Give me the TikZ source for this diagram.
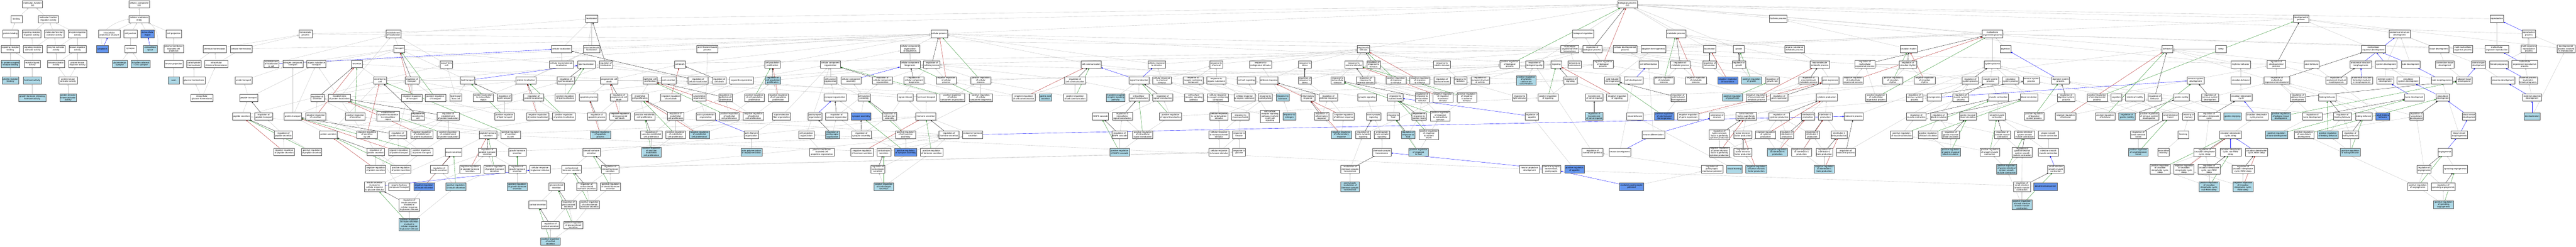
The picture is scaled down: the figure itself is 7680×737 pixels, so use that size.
\documentclass[tikz,border=0pt]{standalone}
\usepackage{fontspec}
\setmainfont{Liberation Sans}
\usetikzlibrary{arrows.meta}
\definecolor{lbf}{HTML}{ADD8E6}
\definecolor{cbf}{HTML}{6495ED}
\definecolor{cgr}{HTML}{C4C4C4}
\definecolor{cre}{HTML}{B22222}
\definecolor{cgn}{HTML}{228B22}
\definecolor{cbl}{HTML}{0000FF}
\definecolor{cbk}{HTML}{1A1A1A}
\newcommand\fs{\fontsize{6.5}{6.9}\selectfont}
\pgfdeclarelayer{background}
\pgfdeclarelayer{canvas}
\pgfsetlayers{canvas,background,main}
\tikzset{
  bx/.style={draw=black!65, fill=white, line width=0.7pt, align=center, inner sep=1.5pt, minimum height=22pt, font=\fs},
  lbx/.style={bx, fill=lbf},
  cbx/.style={bx, fill=cbf},
  eg/.style={draw=cgr, line width=0.6pt, -{Triangle[length=4.5pt,width=3.6pt]}},
  er/.style={eg, draw=cre},
  en/.style={eg, draw=cgn},
  eb/.style={eg, draw=cbl},
  ek/.style={eg, draw=cbk}
}
\newcommand\bxn[5]{\node[#4,minimum width=#3pt] (#1) at (#2) {#5};}
\newcommand\edg[3][eg]{\draw[#1] (#2) -- (#3);}
\begin{document}
\begin{tikzpicture}[x=1pt,y=-1pt]
\useasboundingbox (0,0) rectangle (7680,737);
\begin{pgfonlayer}{canvas}
\fill[white] (0,0) rectangle (7680,737);
\end{pgfonlayer}
% ---------------- molecular function
\bxn{mf}{97,13}{60}{bx}{molecular\_function\\GO}
\bxn{binding}{49,57}{34}{bx}{binding}
\bxn{mfreg}{144,57}{59}{bx}{molecular function\\regulator activity}
\bxn{pbind}{31,101}{47}{bx}{protein binding}
\bxn{srreg}{94,101}{56}{bx}{signaling receptor\\regulator activity}
\bxn{mfact}{162,101}{58}{bx}{molecular function\\activator activity}
\bxn{enzreg}{231,101}{55}{bx}{enzyme regulator\\activity}
\bxn{srbind}{31,146}{56}{bx}{signaling receptor\\binding}
\bxn{sract}{98,146}{56}{bx}{signaling receptor\\activator activity}
\bxn{enzact}{167,146}{55}{bx}{enzyme activator\\activity}
\bxn{kinreg}{231,146}{51}{bx}{kinase regulator\\activity}
\bxn{gpcr}{31,191}{56}{lbx}{G protein-coupled\\receptor binding}
\bxn{rlig}{96,191}{48}{bx}{receptor ligand\\activity}
\bxn{kinact}{167,191}{50}{bx}{kinase activator\\activity}
\bxn{pkreg}{231,191}{54}{bx}{protein kinase\\regulator activity}
\bxn{ghrelin}{31,240}{50}{lbx}{ghrelin receptor\\binding}
\bxn{hormact}{96,240}{54}{lbx}{hormone activity}
\bxn{pkact}{203,240}{54}{bx}{protein kinase\\activator activity}
\bxn{ghrh}{96,292}{82}{lbx}{growth hormone-releasing\\hormone activity}
\bxn{ptk}{203,292}{50}{lbx}{protein tyrosine\\kinase activator\\activity}
% ---------------- cellular component
\bxn{cc}{415,13}{61}{bx}{cellular\_component\\GO}
\bxn{cae}{415,57}{60}{bx}{cellular anatomical\\entity}
\bxn{ias}{326,101}{65}{bx}{intracellular\\anatomical structure}
\bxn{cjunc}{389,101}{40}{bx}{cell junction}
\bxn{ecr}{440,101}{40}{cbx}{extracellular\\region}
\bxn{cproj}{518,101}{46}{bx}{cell projection}
\bxn{cyto}{305,146}{35}{cbx}{cytoplasm}
\bxn{syn}{389,146}{34}{bx}{synapse}
\bxn{ecs}{448,146}{41}{lbx}{extracellular\\space}
\bxn{pmbcp}{518,146}{59}{bx}{plasma membrane\\bounded cell\\projection}
\bxn{glut}{357,191}{44}{lbx}{glutamatergic\\synapse}
\bxn{schaf}{419,191}{57}{lbx}{Schaffer collateral\\- CA1 synapse}
\bxn{nproj}{518,191}{55}{bx}{neuron projection}
\bxn{axon}{518,240}{33}{lbx}{axon}
% ---------------- biological process, left
\bxn{chemhom}{640,146}{70}{bx}{chemical homeostasis}
\bxn{carbhom}{578,191}{42}{bx}{carbohydrate\\homeostasis}
\bxn{icchem}{645,191}{69}{bx}{intracellular\\chemical homeostasis}
\bxn{gluhom}{578,240}{66}{bx}{glucose homeostasis}
\bxn{icglu}{602,292}{66}{bx}{intracellular\\glucose homeostasis}
\bxn{cellhom}{719,146}{65}{bx}{cellular homeostasis}
\bxn{homeo}{911,101}{39}{bx}{homeostatic\\process}
\bxn{eloc}{1173,101}{45}{bx}{establishment\\of localization}
\bxn{transport}{1190,146}{33}{bx}{transport}
\bxn{eloccell}{809,191}{45}{bx}{establishment\\of localization\\in cell}
\bxn{nitro}{873,191}{60}{bx}{nitrogen compound\\transport}
\bxn{orgsub}{943,191}{57}{bx}{organic substance\\transport}
\bxn{secretion}{1064,191}{33}{bx}{secretion}
\bxn{amide}{726,240}{51}{bx}{amide transport}
\bxn{sbc}{1133,240}{39}{bx}{secretion by\\cell}
\bxn{regtrans}{1228,240}{41}{bx}{regulation of\\transport}
\bxn{peptr}{741,292}{54}{bx}{peptide transport}
\bxn{regsec}{946,292}{40}{bx}{regulation of\\secretion}
\bxn{eprotloc}{1012,292}{67}{bx}{establishment\\of protein localization}
\bxn{negtrans}{1228,292}{61}{bx}{negative regulation\\of transport}
\bxn{postrans}{1298,292}{61}{bx}{positive regulation\\of transport}
\bxn{pepsec}{720,347}{55}{bx}{peptide secretion}
\bxn{regpeptr}{786,347}{54}{bx}{regulation of\\peptide transport}
\bxn{protr}{873,347}{52}{bx}{protein transport}
\bxn{negsec}{941,347}{60}{bx}{negative regulation\\of secretion}
\bxn{possec}{1059,347}{58}{bx}{positive regulation\\of secretion}
\bxn{eplx}{1157,347}{68}{bx}{establishment\\of protein localization\\to extracellular\\region}
\bxn{regsbc}{1246,347}{41}{bx}{regulation of\\secretion by\\cell}
\bxn{regpepsec}{845,402}{54}{bx}{regulation of\\peptide secretion}
\bxn{protsec}{979,402}{53}{bx}{protein secretion}
\bxn{negsbc}{1094,402}{61}{bx}{negative regulation\\of secretion\\by cell}
\bxn{regprotr}{1186,402}{53}{bx}{regulation of\\protein transport}
\bxn{negepl}{1257,402}{66}{bx}{negative regulation\\of establishment\\of protein localization}
\bxn{negpepsec}{847,453}{62}{bx}{negative regulation\\of peptide secretion}
\bxn{pospepsec}{929,453}{61}{bx}{positive regulation\\of peptide secretion}
\bxn{regprotsec}{1120,453}{53}{bx}{regulation of\\protein secretion}
\bxn{negprotr}{1189,453}{61}{bx}{negative regulation\\of protein transport}
\bxn{posprotr}{1257,453}{66}{bx}{positive regulation\\of protein transport}
\bxn{negprotsec}{1120,505}{60}{bx}{negative regulation\\of protein secretion}
\bxn{posprotsec}{1195,505}{60}{bx}{positive regulation\\of protein secretion}
\bxn{insgsr}{1117,557}{61}{bx}{insulin secretion\\involved in\\cellular response\\to glucose stimulus}
\bxn{orghyd}{1190,557}{62}{bx}{organic hydroxy\\compound transport}
\bxn{neginssec}{1264,557}{62}{cbx}{negative regulation\\of insulin secretion}
\bxn{reginsgsr}{1220,612}{61}{bx}{regulation of\\insulin secretion\\involved in\\cellular response\\to glucose stimulus}
\bxn{posinsgsr}{1220,670}{61}{lbx}{positive regulation\\of insulin secretion\\involved in\\cellular response\\to glucose stimulus}
% ---------------- region 1280-2380
\bxn{loc}{1764,56}{37}{bx}{localization}
\bxn{cellloc}{1674,146}{60}{bx}{cellular localization}
\bxn{macloc}{1764,146}{49}{bx}{macromolecule\\localization}
\bxn{afbp}{2109,146}{63}{bx}{actin filament-based\\process}
\bxn{expcell}{1331,192}{37}{bx}{export from\\cell}
\bxn{cmacloc}{1674,192}{72}{bx}{cellular macromolecule\\localization}
\bxn{lipidloc}{1748,192}{53}{bx}{lipid localization}
\bxn{regloc}{1806,192}{40}{bx}{regulation of\\localization}
\bxn{celldeath}{2027,192}{32}{bx}{cell death}
\bxn{cpp}{2303,192}{46}{bx}{cell population\\proliferation}
\bxn{lipidtr}{1394,240}{43}{bx}{lipid transport}
\bxn{protloc}{1568,240}{60}{bx}{protein localization}
\bxn{reglipidloc}{1687,240}{52}{bx}{regulation of\\lipid localization}
\bxn{pcd}{1816,240}{53}{bx}{programmed cell\\death}
\bxn{epiprol}{1938,240}{42}{bx}{epithelial cell\\proliferation}
\bxn{acidsec}{1993,240}{45}{bx}{acid secretion}
\bxn{regcellloc}{2081,240}{60}{bx}{regulation of\\cellular localization}
\bxn{regcd}{2144,240}{40}{bx}{regulation of\\cell death}
\bxn{orgorg}{2211,240}{70}{bx}{organelle organization}
\bxn{regcpp}{2304,240}{46}{lbx}{regulation of\\cell population\\proliferation}
\bxn{lipidexp}{1359,291}{36}{bx}{lipid export\\from cell}
\bxn{protlocx}{1441,291}{60}{bx}{protein localization\\to extracellular\\region}
\bxn{reglipidtr}{1504,291}{44}{bx}{regulation of\\lipid transport}
\bxn{regprotloc}{1591,291}{60}{bx}{regulation of\\protein localization}
\bxn{poslipidloc}{1685,291}{60}{bx}{positive regulation\\of lipid localization}
\bxn{apop}{1755,291}{55}{bx}{apoptotic process}
\bxn{regpcd}{1845,291}{53}{bx}{regulation of\\programmed cell\\death}
\bxn{endoprol}{1908,291}{50}{bx}{endothelial\\cell proliferation}
\bxn{negcd}{2000,291}{60}{bx}{negative regulation\\of cell death}
\bxn{cytoorg}{2085,291}{40}{bx}{cytoskeleton\\organization}
\bxn{regepi}{2163,291}{41}{bx}{regulation of\\epithelial cell\\proliferation}
\bxn{poscpp}{2249,291}{59}{bx}{positive regulation\\of cell population\\proliferation}
\bxn{negcpp}{2320,291}{60}{bx}{negative regulation\\of cell population\\proliferation}
\bxn{regepl}{1336,347}{67}{bx}{regulation of\\establishment\\of protein localization}
\bxn{posliptr}{1504,347}{58}{bx}{positive regulation\\of lipid transport}
\bxn{negprotloc}{1603,347}{67}{bx}{negative regulation\\of protein localization}
\bxn{posprotloc}{1681,347}{67}{bx}{positive regulation\\of protein localization}
\bxn{regapop}{1779,347}{55}{bx}{regulation of\\apoptotic process}
\bxn{negpcd}{1848,347}{62}{bx}{negative regulation\\of programmed\\cell death}
\bxn{vecp}{1922,347}{62}{bx}{vascular endothelial\\cell proliferation}
\bxn{regendo}{2014,347}{50}{bx}{regulation of\\endothelial\\cell proliferation}
\bxn{actcyto}{2104,347}{56}{bx}{actin cytoskeleton\\organization}
\bxn{posepi}{2174,347}{58}{bx}{positive regulation\\of epithelial\\cell proliferation}
\bxn{negepi}{2246,347}{60}{bx}{negative regulation\\of epithelial\\cell proliferation}
\bxn{supra}{2330,347}{53}{bx}{supramolecular\\fiber organization}
\bxn{posepl}{1336,402}{67}{bx}{positive regulation\\of establishment\\of protein localization}
\bxn{pephorm}{1455,402}{53}{bx}{peptide hormone\\secretion}
\bxn{possbc}{1522,402}{58}{bx}{positive regulation\\of secretion\\by cell}
\bxn{negapop}{1790,402}{60}{lbx}{negative regulation\\of apoptotic\\process}
\bxn{regvecp}{1942,402}{65}{bx}{regulation of\\vascular endothelial\\cell proliferation}
\bxn{posendo}{2014,402}{59}{bx}{positive regulation\\of endothelial\\cell proliferation}
\bxn{negendo}{2085,402}{60}{lbx}{negative regulation\\of endothelial\\cell proliferation}
\bxn{actfil}{2240,402}{44}{bx}{actin filament\\organization}
\bxn{inssec}{1352,454}{50}{bx}{insulin secretion}
\bxn{regpephorm}{1453,454}{53}{bx}{regulation of\\peptide hormone\\secretion}
\bxn{ghsec}{1542,454}{52}{bx}{growth hormone\\secretion}
\bxn{steroid}{1763,454}{52}{bx}{steroid hormone\\secretion}
\bxn{posvecp}{1942,454}{59}{lbx}{positive regulation\\of vascular\\endothelial\\cell proliferation}
\bxn{actpoly}{2240,454}{63}{lbx}{actin polymerization\\or depolymerization}
\bxn{regins}{1309,505}{52}{bx}{regulation of\\insulin secretion}
\bxn{negpephorm}{1401,505}{62}{bx}{negative regulation\\of peptide hormone\\secretion}
\bxn{pospephorm}{1474,505}{62}{bx}{positive regulation\\of peptide hormone\\secretion}
\bxn{regghsec}{1542,505}{52}{bx}{regulation of\\growth hormone\\secretion}
\bxn{crgs}{1610,505}{62}{bx}{cellular response\\to glucose stimulus}
\bxn{corticosec}{1704,505}{59}{bx}{corticosteroid\\hormone secretion}
\bxn{regsteroid}{1819,505}{52}{bx}{regulation of\\steroid hormone\\secretion}
\bxn{posins}{1359,557}{59}{lbx}{positive regulation\\of insulin secretion}
\bxn{posgh}{1542,557}{59}{lbx}{positive regulation\\of growth hormone\\secretion}
\bxn{glucosec}{1659,557}{45}{bx}{glucocorticoid\\secretion}
\bxn{regcortico}{1749,557}{59}{bx}{regulation of\\corticosteroid\\hormone secretion}
\bxn{possteroid}{1820,557}{60}{bx}{positive regulation\\of steroid hormone\\secretion}
\bxn{cortisol}{1603,611}{53}{bx}{cortisol secretion}
\bxn{regglucosec}{1695,611}{44}{bx}{regulation of\\glucocorticoid\\secretion}
\bxn{poscortico}{1758,611}{58}{bx}{positive regulation\\of corticosteroid\\hormone secretion}
\bxn{regcortisol}{1641,672}{53}{bx}{regulation of\\cortisol secretion}
\bxn{posgluco}{1709,672}{58}{bx}{positive regulation\\of glucocorticoid\\secretion}
\bxn{poscortisol}{1641,721}{58}{lbx}{positive regulation\\of cortisol\\secretion}
% ---------------- region 2380-3480
\bxn{cp}{2800,101}{49}{bx}{cellular process}
\bxn{ccob}{2713,146}{59}{bx}{cellular component\\organization\\or biogenesis}
\bxn{ccorg}{2476,192}{60}{bx}{cellular component\\organization}
\bxn{ccbio}{2713,192}{60}{bx}{cellular component\\biogenesis}
\bxn{regcp}{2778,192}{49}{bx}{regulation of\\cellular process}
\bxn{cellcomm}{3253,192}{60}{bx}{cell communication}
\bxn{crs}{3448,192}{52}{bx}{cellular response\\to stimulus}
\bxn{cjorg}{2476,240}{39}{bx}{cell junction\\organization}
\bxn{ccasm}{2537,240}{60}{bx}{cellular component\\assembly}
\bxn{regccorg}{2631,240}{60}{bx}{regulation of\\cellular component\\organization}
\bxn{regccbio}{2725,240}{60}{bx}{regulation of\\cellular component\\biogenesis}
\bxn{negcp}{2821,240}{60}{bx}{negative regulation\\of cellular\\process}
\bxn{poscp}{2924,240}{59}{bx}{positive regulation\\of cellular\\process}
\bxn{regcomm}{3205,240}{62}{bx}{regulation of\\cell communication}
\bxn{sigtrans}{3396,240}{60}{bx}{signal transduction}
\bxn{crcs}{3464,240}{55}{bx}{cellular response\\to chemical\\stimulus}
\bxn{synorg}{2489,291}{66}{bx}{synapse organization}
\bxn{cjasm}{2576,291}{36}{bx}{cell junction\\assembly}
\bxn{sigrel}{2699,291}{45}{bx}{signal release}
\bxn{hormtr}{2762,291}{58}{bx}{hormone transport}
\bxn{posccorg}{2839,291}{74}{bx}{positive regulation\\of cellular\\component organization}
\bxn{posccbio}{2924,291}{70}{bx}{positive regulation\\of cellular\\component biogenesis}
\bxn{negcomm}{3052,291}{69}{bx}{negative regulation\\of cell communication}
\bxn{gastacid}{3117,291}{36}{lbx}{gastric acid\\secretion}
\bxn{poscomm}{3205,291}{69}{bx}{positive regulation\\of cell communication}
\bxn{gpcrsp}{3326,291}{56}{lbx}{G protein-coupled\\receptor signaling\\pathway}
\bxn{ist}{3395,291}{60}{bx}{intracellular\\signal transduction}
\bxn{regst}{3466,291}{60}{bx}{regulation of\\signal transduction}
\bxn{postsyn}{2429,347}{41}{bx}{postsynapse\\organization}
\bxn{regsynorg}{2494,347}{67}{bx}{regulation of\\synapse organization}
\bxn{synasm}{2567,347}{59}{cbx}{synapse assembly}
\bxn{regcja}{2652,347}{41}{bx}{regulation of\\cell junction\\assembly}
\bxn{hormsec}{2760,347}{59}{bx}{hormone secretion}
\bxn{mapk}{3281,347}{45}{bx}{MAPK cascade}
\bxn{regist}{3346,347}{60}{bx}{regulation of\\intracellular\\signal transduction}
\bxn{posst}{3490,347}{66}{bx}{positive regulation\\of signal transduction}
\bxn{cporg}{2404,402}{46}{bx}{cell projection\\organization}
\bxn{regpostsyn}{2482,402}{41}{lbx}{regulation of\\postsynapse\\organization}
\bxn{regsynasm}{2568,402}{58}{bx}{regulation of\\synapse assembly}
\bxn{poscja}{2700,402}{59}{bx}{positive regulation\\of cell junction\\assembly}
\bxn{reghormsec}{2829,402}{59}{bx}{regulation of\\hormone secretion}
\bxn{endohorm}{2900,402}{60}{bx}{endocrine hormone\\secretion}
\bxn{regmapk}{3338,402}{45}{bx}{regulation of\\MAPK cascade}
\bxn{posist}{3407,402}{60}{bx}{positive regulation\\of intracellular\\signal transduction}
\bxn{pmbcporg}{2450,454}{73}{bx}{plasma membrane\\bounded cell\\projection organization}
\bxn{neghorm}{2570,454}{67}{bx}{negative regulation\\of hormone secretion}
\bxn{cortsec}{2635,454}{41}{bx}{corticotropin\\secretion}
\bxn{possynasm}{2700,454}{67}{cbx}{positive regulation\\of synapse assembly}
\bxn{poshorm}{2777,454}{67}{bx}{positive regulation\\of hormone secretion}
\bxn{posmapk}{3338,454}{59}{lbx}{positive regulation\\of MAPK cascade}
\bxn{regcort}{2617,505}{41}{bx}{regulation of\\corticotropin\\secretion}
\bxn{poscort}{2635,557}{59}{lbx}{positive regulation\\of corticotropin\\secretion}
% ---------------- region 3480-4580
\bxn{rs}{4065,146}{37}{bx}{response to\\stimulus}
\bxn{rchem}{3626,192}{38}{bx}{response to\\chemical}
\bxn{rendo}{3758,192}{66}{bx}{response to\\endogenous stimulus}
\bxn{rstress}{3890,192}{38}{bx}{response to\\stress}
\bxn{rext}{4036,192}{53}{bx}{response to\\external stimulus}
\bxn{regrs}{4095,192}{39}{bx}{regulation of\\response to\\stimulus}
\bxn{rabio}{4299,192}{50}{bx}{response to\\abiotic stimulus}
\bxn{posbp}{4501,192}{59}{bx}{positive regulation\\of biological\\process}
\bxn{bq}{4575,192}{53}{bx}{regulation of\\biological quality}
\bxn{roxy}{3557,240}{59}{bx}{response to\\oxygen-containing\\compound}
\bxn{rorg}{3626,240}{56}{bx}{response to\\organic substance}
\bxn{ccsig}{3716,240}{56}{bx}{cell-cell signaling}
\bxn{defr}{3783,240}{53}{bx}{defense response}
\bxn{regrstress}{3890,240}{39}{bx}{regulation of\\response to\\stress}
\bxn{rextra}{3988,240}{39}{bx}{response to\\extracellular\\stimulus}
\bxn{regrext}{4071,240}{56}{bx}{regulation of\\response to\\external stimulus}
\bxn{posrs}{4162,240}{59}{bx}{positive regulation\\of response\\to stimulus}
\bxn{negrs}{4233,240}{60}{bx}{negative regulation\\of response\\to stimulus}
\bxn{reghl}{4299,240}{49}{bx}{regulation of\\hormone levels}
\bxn{rrad}{4354,240}{38}{bx}{response to\\radiation}
\bxn{regsyn}{4413,240}{56}{bx}{regulation of\\synapse structure\\or activity}
\bxn{poscyto}{4550,240}{59}{lbx}{positive regulation\\of cytosolic\\calcium ion\\concentration}
\bxn{csrsp}{3559,291}{56}{bx}{cell surface\\receptor signaling\\pathway}
\bxn{crox}{3631,291}{62}{bx}{cellular response\\to oxygen-containing\\compound}
\bxn{cror}{3710,291}{62}{bx}{cellular response\\to organic substance}
\bxn{rcarb}{3772,291}{38}{bx}{response to\\carbohydrate}
\bxn{rhorm}{3824,291}{38}{lbx}{response to\\hormone}
\bxn{inflam}{3899,291}{42}{bx}{inflammatory\\response}
\bxn{regdef}{3960,291}{55}{bx}{regulation of\\defense response}
\bxn{synsig}{4075,291}{56}{bx}{synaptic signaling}
\bxn{rnut}{4160,291}{46}{bx}{response to\\nutrient levels}
\bxn{regrextra}{4240,291}{41}{bx}{regulation of\\response to\\extracellular\\stimulus}
\bxn{negrext}{4302,291}{60}{bx}{negative regulation\\of response\\to external\\stimulus}
\bxn{posrext}{4373,291}{59}{bx}{positive regulation\\of response\\to external\\stimulus}
\bxn{rlight}{4530,291}{43}{bx}{response to\\light stimulus}
\bxn{crcarb}{3634,347}{53}{bx}{cellular response\\to carbohydrate\\stimulus}
\bxn{rmono}{3698,347}{52}{bx}{response to\\monosaccharide}
\bxn{csrspcc}{3786,347}{56}{bx}{cell surface\\receptor signaling\\pathway involved\\in cell-cell\\signaling}
\bxn{restro}{3844,347}{38}{lbx}{response to\\estrogen}
\bxn{reginflam}{3940,347}{42}{bx}{regulation of\\inflammatory\\response}
\bxn{negdef}{4006,347}{63}{bx}{negative regulation\\of defense response}
\bxn{transsyn}{4095,347}{43}{bx}{trans-synaptic\\signaling}
\bxn{rfood}{4154,347}{36}{bx}{response to\\food}
\bxn{regrnut}{4231,347}{43}{bx}{regulation of\\response to\\nutrient levels}
\bxn{posrextra}{4294,347}{58}{bx}{positive regulation\\of response\\to extracellular\\stimulus}
\bxn{regapp}{4567,347}{40}{bx}{regulation of\\appetite}
\bxn{crmono}{3634,402}{60}{bx}{cellular response\\to monosaccharide\\stimulus}
\bxn{rhex}{3694,402}{38}{bx}{response to\\hexose}
\bxn{neginflam}{3999,402}{60}{lbx}{negative regulation\\of inflammatory\\response}
\bxn{regtss}{4064,402}{45}{bx}{regulation of\\trans-synaptic\\signaling}
\bxn{antero}{4120,402}{45}{bx}{anterograde\\trans-synaptic\\signaling}
\bxn{regrfood}{4198,402}{39}{lbx}{regulation of\\response to\\food}
\bxn{posrnut}{4260,402}{59}{bx}{positive regulation\\of response\\to nutrient\\levels}
\bxn{crhex}{3634,454}{60}{bx}{cellular response\\to hexose stimulus}
\bxn{rglu}{3694,454}{38}{bx}{response to\\glucose}
\bxn{cst}{4120,454}{56}{bx}{chemical synaptic\\transmission}
\bxn{posrfood}{4229,454}{59}{lbx}{positive regulation\\of response\\to food}
\bxn{modcst}{4025,505}{56}{bx}{modulation of\\chemical synaptic\\transmission}
\bxn{npd}{4560,505}{60}{bx}{neuron projection\\development}
\bxn{postmod}{4025,557}{56}{lbx}{postsynaptic\\modulation of\\chemical synaptic\\transmission}
% ---------------- region 4580-5680
\bxn{bp}{4852,13}{58}{bx}{biological\_process\\GO}
\bxn{rhythm}{5301,56}{53}{bx}{rhythmic process}
\bxn{bioreg}{4720,101}{63}{bx}{biological regulation}
\bxn{metab}{4997,101}{58}{bx}{metabolic process}
\bxn{mohom}{4680,146}{53}{bx}{multicellular\\organismal-level\\homeostasis}
\bxn{regbp}{4747,146}{56}{bx}{regulation of\\biological process}
\bxn{cdp}{4845,146}{70}{bx}{cellular developmental\\process}
\bxn{adapt}{4929,146}{74}{bx}{adaptive thermogenesis}
\bxn{loco}{5097,146}{36}{bx}{locomotion}
\bxn{growth}{5184,146}{32}{bx}{growth}
\bxn{osmp}{5350,146}{58}{bx}{organic substance\\metabolic process}
\bxn{circ}{5690,146}{51}{bx}{circadian rhythm}
\bxn{signaling}{4640,192}{32}{bx}{signaling}
\bxn{temphom}{4694,192}{39}{bx}{temperature\\homeostasis}
\bxn{negbp}{4779,192}{60}{bx}{negative regulation\\of biological\\process}
\bxn{celldiff}{4915,192}{58}{bx}{cell differentiation}
\bxn{regmetab}{5009,192}{58}{bx}{regulation of\\metabolic process}
\bxn{regloco}{5097,192}{39}{bx}{regulation of\\locomotion}
\bxn{reggrowth}{5184,192}{39}{bx}{regulation of\\growth}
\bxn{macmetab}{5425,192}{58}{bx}{macromolecule\\metabolic process}
\bxn{regmulti}{5560,192}{60}{bx}{regulation of\\multicellular\\organismal process}
\bxn{regcirc}{5688,192}{52}{bx}{regulation of\\circadian rhythm}
\bxn{regsig}{4682,240}{41}{bx}{regulation of\\signaling}
\bxn{coldthermo}{4807,240}{46}{bx}{cold-induced\\thermogenesis}
\bxn{celldev}{4870,240}{56}{bx}{cell development}
\bxn{posmetab}{4961,240}{59}{bx}{positive regulation\\of metabolic\\process}
\bxn{negmetab}{5056,240}{62}{bx}{negative regulation\\of metabolic\\process}
\bxn{negloco}{5151,240}{60}{cbx}{negative regulation\\of locomotion}
\bxn{posgrowth}{5222,240}{59}{lbx}{positive regulation\\of growth}
\bxn{reggr}{5284,240}{41}{bx}{regulation of\\growth rate}
\bxn{regmacmetab}{5392,240}{58}{bx}{regulation of\\macromolecule\\metabolic process}
\bxn{geneexp}{5457,240}{52}{bx}{gene expression}
\bxn{negmulti}{5525,240}{60}{bx}{negative regulation\\of multicellular\\organismal process}
\bxn{poscirc}{5643,240}{60}{bx}{positive regulation\\of circadian\\rhythm}
\bxn{possig}{4615,291}{59}{bx}{positive regulation\\of signaling}
\bxn{tni}{4753,291}{53}{bx}{transmission\\of nerve impulse}
\bxn{negsig}{4821,291}{62}{bx}{negative regulation\\of signaling}
\bxn{regcold}{5004,291}{46}{bx}{regulation of\\cold-induced\\thermogenesis}
\bxn{posgr}{5165,291}{59}{lbx}{positive regulation\\of growth rate}
\bxn{negmacmetab}{5236,291}{60}{bx}{negative regulation\\of macromolecule\\metabolic process}
\bxn{reggene}{5304,291}{53}{bx}{regulation of\\gene expression}
\bxn{cytoprod}{5446,291}{62}{bx}{cytokine production}
\bxn{posmulti}{5593,291}{62}{bx}{positive regulation\\of multicellular\\organismal process}
\bxn{regtni}{4753,347}{53}{lbx}{regulation of\\transmission\\of nerve impulse}
\bxn{visbeh}{4874,347}{49}{bx}{visual behavior}
\bxn{poscold}{4962,347}{59}{cbx}{positive regulation\\of cold-induced\\thermogenesis}
\bxn{neggene}{5033,347}{62}{bx}{negative regulation\\of gene expression}
\bxn{genneur}{5119,347}{43}{bx}{generation of\\neurons}
\bxn{tnfsf}{5206,347}{62}{bx}{tumor necrosis\\factor superfamily\\cytokine production}
\bxn{regcyto}{5304,347}{62}{bx}{regulation of\\cytokine production}
\bxn{il6}{5390,347}{41}{bx}{interleukin-6\\production}
\bxn{il1}{5442,347}{41}{bx}{interleukin-1\\production}
\bxn{endoproc}{5526,347}{56}{bx}{endocrine process}
\bxn{neurdiff}{4929,402}{67}{bx}{neuron differentiation}
\bxn{regtnfsf}{5126,402}{62}{bx}{regulation of\\tumor necrosis\\factor superfamily\\cytokine production}
\bxn{tnfprod}{5196,402}{53}{bx}{tumor necrosis\\factor production}
\bxn{negcyto}{5264,402}{60}{bx}{negative regulation\\of cytokine\\production}
\bxn{regil6}{5327,402}{41}{bx}{regulation of\\interleukin-6\\production}
\bxn{regil1}{5403,402}{41}{bx}{regulation of\\interleukin-1\\production}
\bxn{il1b}{5483,402}{49}{bx}{interleukin-1\\beta production}
\bxn{posmuscon}{5669,402}{66}{bx}{positive regulation\\of muscle contraction}
\bxn{regmp}{4748,454}{63}{bx}{regulation of\\membrane potential}
\bxn{neurdev}{4829,454}{65}{bx}{neuron development}
\bxn{negtnfsf}{5126,454}{60}{bx}{negative regulation\\of tumor necrosis\\factor superfamily\\cytokine production}
\bxn{regtnf}{5196,454}{53}{bx}{regulation of\\tumor necrosis\\factor production}
\bxn{negil6}{5299,454}{60}{lbx}{negative regulation\\of interleukin-6\\production}
\bxn{negil1}{5371,454}{60}{bx}{negative regulation\\of interleukin-1\\production}
\bxn{regil1b}{5439,454}{49}{bx}{regulation of\\interleukin-1\\beta production}
\bxn{regendoproc}{5503,454}{56}{bx}{regulation of\\endocrine process}
\bxn{cstpost}{4625,505}{56}{bx}{chemical synaptic\\transmission,\\postsynaptic}
\bxn{posapp}{4694,505}{59}{cbx}{positive regulation\\of appetite}
\bxn{regpostmp}{5104,505}{65}{bx}{regulation of\\postsynaptic\\membrane potential}
\bxn{vislearn}{5171,505}{46}{lbx}{visual learning}
\bxn{negtnf}{5236,505}{62}{lbx}{negative regulation\\of tumor necrosis\\factor production}
\bxn{negil1b}{5439,505}{60}{lbx}{negative regulation\\of interleukin-1\\beta production}
\bxn{epsp}{4864,557}{72}{cbx}{excitatory postsynaptic\\potential}
% ---------------- region 5680-6780
\bxn{mop}{5940,101}{60}{bx}{multicellular\\organismal process}
\bxn{digestion}{5979,146}{32}{bx}{digestion}
\bxn{behavior}{6462,146}{32}{bx}{behavior}
\bxn{sleep}{6621,146}{32}{bx}{sleep}
\bxn{sysproc}{5940,192}{49}{bx}{system process}
\bxn{rhybeh}{6680,192}{58}{bx}{rhythmic behavior}
\bxn{regdev}{6786,192}{56}{bx}{regulation of\\developmental\\process}
\bxn{negcirc}{5738,240}{62}{bx}{negative regulation\\of circadian\\rhythm}
\bxn{regsys}{5874,240}{49}{bx}{regulation of\\system process}
\bxn{msp}{5934,240}{48}{bx}{muscle system\\process}
\bxn{csp}{5994,240}{50}{bx}{circulatory\\system process}
\bxn{nsp}{6056,240}{48}{bx}{nervous system\\process}
\bxn{dsp}{6143,240}{53}{bx}{digestive system\\process}
\bxn{nsd}{6546,240}{50}{bx}{nervous system\\development}
\bxn{circbeh}{6680,240}{58}{bx}{circadian behavior}
\bxn{regmod}{6788,240}{77}{bx}{regulation of\\multicellular\\organismal development}
\bxn{regnsp}{5708,291}{49}{bx}{regulation of\\nervous system\\process}
\bxn{neurogen}{5766,291}{43}{bx}{neurogenesis}
\bxn{regmsp}{5846,291}{48}{bx}{regulation of\\muscle system\\process}
\bxn{muscon}{5958,291}{59}{bx}{muscle contraction}
\bxn{bloodcirc}{6049,291}{52}{bx}{blood circulation}
\bxn{regdsp}{6160,291}{53}{bx}{regulation of\\digestive system\\process}
\bxn{posdev}{6252,291}{60}{bx}{positive regulation\\of developmental\\process}
\bxn{cognition}{6309,291}{32}{bx}{cognition}
\bxn{intmot}{6365,291}{56}{bx}{intestinal motility}
\bxn{regbeh}{6424,291}{39}{bx}{regulation of\\behavior}
\bxn{gastmot}{6504,291}{46}{bx}{gastric motility}
\bxn{regnsd}{6589,291}{50}{bx}{regulation of\\nervous system\\development}
\bxn{cswc}{6682,291}{63}{bx}{circadian sleep/wake\\cycle}
\bxn{regmuscon}{5713,347}{59}{bx}{regulation of\\muscle contraction}
\bxn{regbc}{5780,347}{50}{bx}{regulation of\\blood circulation}
\bxn{gmbc}{5867,347}{52}{bx}{gastric mucosal\\blood circulation}
\bxn{smc}{5954,347}{49}{bx}{smooth muscle\\contraction}
\bxn{posdsp}{6064,347}{59}{bx}{positive regulation\\of digestive\\system process}
\bxn{negbeh}{6158,347}{62}{bx}{negative regulation\\of behavior}
\bxn{posbeh}{6276,347}{59}{bx}{positive regulation\\of behavior}
\bxn{reggm}{6341,347}{48}{lbx}{regulation of\\gastric motility}
\bxn{posnsd}{6407,347}{59}{bx}{positive regulation\\of nervous system\\development}
\bxn{sit}{6471,347}{48}{bx}{small intestinal\\transit}
\bxn{lom}{6525,347}{35}{bx}{learning or\\memory}
\bxn{regcswc}{6586,347}{66}{bx}{regulation of\\circadian sleep/wake\\cycle}
\bxn{gastemp}{6656,347}{53}{lbx}{gastric emptying}
\bxn{cswcp}{6728,347}{66}{bx}{circadian sleep/wake\\cycle process}
\bxn{posatd}{6800,347}{58}{lbx}{positive regulation\\of adipose tissue\\development}
\bxn{posbc}{5748,402}{59}{bx}{positive regulation\\of blood circulation}
\bxn{reggmbc}{5816,402}{52}{bx}{regulation of\\gastric mucosal\\blood circulation}
\bxn{regsmc}{5970,402}{48}{bx}{regulation of\\smooth muscle\\contraction}
\bxn{gissmc}{6036,402}{59}{bx}{gastro-intestinal\\system smooth\\muscle contraction}
\bxn{phasic}{6107,402}{60}{bx}{phasic smooth\\muscle contraction}
\bxn{regsit}{6375,402}{48}{bx}{regulation of\\small intestinal\\transit}
\bxn{learning}{6509,402}{31}{bx}{learning}
\bxn{cswcs}{6650,402}{65}{bx}{circadian sleep/wake\\cycle, sleep}
\bxn{posbone}{6787,402}{67}{lbx}{positive regulation\\of bone development}
\bxn{posgmbc}{5815,454}{58}{lbx}{positive regulation\\of gastric mucosal\\blood circulation}
\bxn{possmc}{5932,454}{59}{bx}{positive regulation\\of smooth muscle\\contraction}
\bxn{reggissmc}{6029,454}{60}{bx}{regulation of\\gastro-intestinal\\system smooth\\muscle contraction}
\bxn{ismc}{6107,454}{60}{bx}{intestine smooth\\muscle contraction}
\bxn{possit}{6375,454}{58}{lbx}{positive regulation\\of small intestinal\\transit}
\bxn{assoc}{6450,454}{35}{bx}{associative\\learning}
\bxn{regcswcs}{6573,454}{65}{bx}{regulation of\\circadian sleep/wake\\cycle, sleep}
\bxn{nrem}{6650,454}{63}{bx}{circadian sleep/wake\\cycle, non-REM\\sleep}
\bxn{rem}{6727,454}{65}{bx}{circadian sleep/wake\\cycle, REM sleep}
\bxn{posgissmc}{5982,505}{59}{lbx}{positive regulation\\of gastro-intestinal\\system smooth\\muscle contraction}
\bxn{sismc}{6129,505}{48}{bx}{small intestine\\smooth muscle\\contraction}
\bxn{poscswcs}{6440,505}{59}{bx}{positive regulation\\of circadian\\sleep/wake cycle,\\sleep}
\bxn{negcswcs}{6511,505}{60}{bx}{negative regulation\\of circadian\\sleep/wake cycle,\\sleep}
\bxn{regnrem}{6586,505}{66}{bx}{regulation of\\circadian sleep/wake\\cycle, non-REM\\sleep}
\bxn{regrem}{6687,505}{65}{bx}{regulation of\\circadian sleep/wake\\cycle, REM sleep}
\bxn{regsismc}{6028,557}{50}{bx}{regulation of\\small intestine\\smooth muscle\\contraction}
\bxn{dendrite}{6098,557}{70}{cbx}{dendrite development}
\bxn{posnrem}{6586,557}{59}{lbx}{positive regulation\\of circadian\\sleep/wake cycle,\\non-REM sleep}
\bxn{negrem}{6687,557}{60}{lbx}{negative regulation\\of circadian\\sleep/wake cycle,\\REM sleep}
\bxn{possismc}{6028,611}{59}{lbx}{positive regulation\\of small intestine\\smooth muscle\\contraction}
% ---------------- region 6780-7680
\bxn{dev}{6860,56}{47}{bx}{developmental\\process}
\bxn{repro}{7444,56}{40}{bx}{reproduction}
\bxn{asd}{7154,101}{64}{bx}{anatomical structure\\development}
\bxn{reprop}{7539,101}{40}{bx}{reproductive\\process}
\bxn{mod}{7076,146}{71}{bx}{multicellular\\organism development}
\bxn{tissue}{7271,146}{60}{bx}{tissue development}
\bxn{mmop}{7343,146}{57}{bx}{multi-multicellular\\organism process}
\bxn{mor}{7444,146}{70}{bx}{multicellular\\organism reproduction}
\bxn{morp}{7539,146}{47}{bx}{multi-organism\\reproductive\\process}
\bxn{dpir}{7650,146}{53}{bx}{developmental\\process involved\\in reproduction}
\bxn{adult}{6892,192}{45}{bx}{adult behavior}
\bxn{asm}{7038,192}{64}{bx}{anatomical structure\\morphogenesis}
\bxn{sysdev}{7114,192}{65}{bx}{system development}
\bxn{tubedev}{7187,192}{56}{bx}{tube development}
\bxn{ctd}{7289,192}{55}{bx}{connective tissue\\development}
\bxn{aod}{7389,192}{41}{bx}{animal organ\\development}
\bxn{preg}{7450,192}{56}{bx}{female pregnancy}
\bxn{morepro}{7527,192}{76}{bx}{multicellular\\organismal reproductive\\process}
\bxn{regasm}{6965,240}{64}{bx}{regulation of\\anatomical structure\\morphogenesis}
\bxn{asfm}{7041,240}{64}{bx}{anatomical structure\\formation involved\\in morphogenesis}
\bxn{ssd}{7111,240}{51}{bx}{skeletal system\\development}
\bxn{csd}{7180,240}{67}{bx}{circulatory\\system development}
\bxn{tubemorph}{7280,240}{63}{bx}{tube morphogenesis}
\bxn{atd}{7347,240}{46}{bx}{adipose tissue\\development}
\bxn{placenta}{7462,240}{70}{bx}{placenta development}
\bxn{mpip}{7537,240}{56}{bx}{maternal process\\involved in\\female pregnancy}
\bxn{regatd}{6851,291}{45}{bx}{regulation of\\adipose tissue\\development}
\bxn{feed}{6938,291}{53}{bx}{feeding behavior}
\bxn{bonedev}{7198,291}{59}{bx}{bone development}
\bxn{vascdev}{7283,291}{40}{bx}{vasculature\\development}
\bxn{mpd}{7549,291}{56}{bx}{maternal placenta\\development}
\bxn{regbone}{6894,347}{59}{bx}{regulation of\\bone development}
\bxn{regfeed}{6984,347}{53}{bx}{regulation of\\feeding behavior}
\bxn{eat}{7047,347}{49}{bx}{eating behavior}
\bxn{adultfeed}{7104,347}{41}{cbx}{adult feeding\\behavior}
\bxn{regvasc}{7204,347}{41}{bx}{regulation of\\vasculature\\development}
\bxn{bvd}{7361,347}{41}{bx}{blood vessel\\development}
\bxn{decid}{7549,347}{48}{lbx}{decidualization}
\bxn{posvasc}{6869,402}{59}{bx}{positive regulation\\of vasculature\\development}
\bxn{posfeed}{6940,402}{61}{lbx}{positive regulation\\of feeding behavior}
\bxn{regeat}{7007,402}{49}{bx}{regulation of\\eating behavior}
\bxn{bvm}{7332,402}{49}{bx}{blood vessel\\morphogenesis}
\bxn{poseat}{7007,454}{59}{lbx}{positive regulation\\of eating behavior}
\bxn{angio}{7289,454}{42}{bx}{angiogenesis}
\bxn{regangio}{7227,505}{41}{bx}{regulation of\\angiogenesis}
\bxn{sprout}{7320,505}{72}{bx}{sprouting angiogenesis}
\bxn{posangio}{7208,557}{59}{bx}{positive regulation\\of angiogenesis}
\bxn{regsprout}{7284,557}{71}{bx}{regulation of\\sprouting angiogenesis}
\bxn{possprout}{7285,611}{59}{lbx}{positive regulation\\of sprouting\\angiogenesis}
% ================= edges
\begin{pgfonlayer}{background}
% MF
\edg{binding}{mf}\edg{mfreg}{mf}\edg{pbind}{binding}\edg{srreg}{mfreg}\edg{mfact}{mfreg}\edg{enzreg}{mfreg}
\edg{srbind}{pbind}\edg{sract}{srreg}\edg{sract}{mfact}\edg{enzact}{mfact}\edg{enzact}{enzreg}\edg{kinreg}{enzreg}
\edg{gpcr}{srbind}\edg{rlig}{srbind}\edg{rlig}{sract}\edg{kinact}{enzact}\edg{kinact}{kinreg}\edg{pkreg}{kinreg}
\edg{ghrelin}{gpcr}\edg{hormact}{rlig}\edg{pkact}{kinact}\edg{pkact}{pkreg}\edg{ghrh}{hormact}\edg{ptk}{pkact}
% CC
\edg{cae}{cc}\edg{ias}{cae}\edg{cjunc}{cae}\edg{ecr}{cae}\edg{cproj}{cae}
\draw[eg] (cyto.north) to[out=110,in=190] (cae.west);
\edg[eb]{cyto}{ias}\edg{syn}{cjunc}\edg[eb]{ecs}{ecr}
\draw[eg] (ecs.north east) to[out=80,in=-40] (cae.south east);
\edg{pmbcp}{cproj}\edg{glut}{syn}\edg{schaf}{syn}\edg{nproj}{pmbcp}\edg{axon}{nproj}
% BP left
\edg{chemhom}{homeo}\edg{cellhom}{homeo}\edg{carbhom}{chemhom}\edg{icchem}{chemhom}\edg{icchem}{cellhom}
\edg{gluhom}{carbhom}\edg{icglu}{gluhom}\edg{icglu}{icchem}
\edg{homeo}{bp}\edg{eloc}{loc}\edg{loc}{bp}
\edg{cellhom}{cp}\edg{eloccell}{cp}\edg{cellloc}{cp}\edg{celldeath}{cp}\edg{cpp}{cp}\edg{afbp}{cp}
\edg{mohom}{mop}\edg{expcell}{cp}
\edg{transport}{eloc}\edg{eloccell}{eloc}\edg[eb]{eloccell}{cellloc}
\edg{nitro}{transport}\edg{orgsub}{transport}\edg{secretion}{transport}
\edg{amide}{nitro}\edg{sbc}{secretion}\edg{sbc}{expcell}
\edg[ek]{regtrans}{transport}\edg{regtrans}{regloc}
\edg{peptr}{amide}\edg{peptr}{orgsub}
\edg[ek]{regsec}{secretion}\edg{regsec}{regtrans}
\edg{eprotloc}{eloc}\edg{eprotloc}{protloc}
\edg[er]{negtrans}{transport}\edg{negtrans}{regtrans}\edg[en]{postrans}{transport}\edg{postrans}{regtrans}
\edg{pepsec}{peptr}\edg{pepsec}{sbc}
\edg[ek]{regpeptr}{peptr}\edg{protr}{nitro}\edg{protr}{orgsub}\edg{protr}{eprotloc}
\edg[er]{negsec}{secretion}\edg{negsec}{regsec}\edg[en]{possec}{secretion}\edg{possec}{regsec}
\edg{eplx}{eprotloc}\edg[ek]{regsbc}{sbc}\edg{regsbc}{regsec}
\edg[ek]{regpepsec}{pepsec}\edg{regpepsec}{regpeptr}\edg{protsec}{protr}\edg{protsec}{sbc}\edg{protsec}{eplx}
\edg[er]{negsbc}{sbc}\edg{negsbc}{negsec}\edg{negsbc}{regsbc}
\edg[ek]{regprotr}{protr}\edg{regprotr}{regtrans}\edg{regprotr}{regepl}
\edg[er]{negepl}{eprotloc}\edg{negepl}{regepl}
\edg[er]{negpepsec}{pepsec}\edg{negpepsec}{regpepsec}\edg[en]{pospepsec}{pepsec}\edg{pospepsec}{regpepsec}
\edg[ek]{regprotsec}{protsec}\edg{regprotsec}{regprotr}
\edg[er]{negprotr}{protr}\edg{negprotr}{regprotr}\edg{negprotr}{negepl}
\edg[en]{posprotr}{protr}\edg{posprotr}{regprotr}\edg{posprotr}{posepl}
\edg[er]{negprotsec}{protsec}\edg{negprotsec}{regprotsec}\edg{negprotsec}{negprotr}
\edg[en]{posprotsec}{protsec}\edg{posprotsec}{regprotsec}\edg{posprotsec}{posprotr}
\edg[eb]{insgsr}{crgs}\edg{insgsr}{inssec}
\edg[ek]{reginsgsr}{insgsr}\edg{reginsgsr}{regins}
\edg[en]{posinsgsr}{insgsr}\edg{posinsgsr}{reginsgsr}\edg{posinsgsr}{posins}
\edg{orghyd}{orgsub}
\edg[er]{neginssec}{inssec}\edg{neginssec}{regins}\edg{neginssec}{negpephorm}
% region 1280-2380
\edg{cellloc}{loc}\edg{macloc}{loc}\edg{cmacloc}{cellloc}\edg{cmacloc}{macloc}\edg{lipidloc}{loc}
\edg[ek]{regloc}{loc}\edg{regloc}{regbp}
\edg{expcell}{eloc}
\edg[eb]{lipidtr}{lipidloc}\edg{lipidtr}{transport}
\edg{protloc}{cmacloc}\edg{protloc}{macloc}
\edg[ek]{reglipidloc}{lipidloc}\edg{reglipidloc}{regloc}
\edg{pcd}{celldeath}\edg{epiprol}{cpp}\edg{acidsec}{sbc}
\edg[ek]{regcellloc}{cellloc}\edg{regcellloc}{regloc}
\edg[ek]{regcd}{celldeath}\edg{regcd}{regcp}
\edg{orgorg}{ccorg}
\edg[ek]{regcpp}{cpp}\edg{regcpp}{regcp}
\edg{lipidexp}{expcell}\edg{lipidexp}{lipidtr}
\edg{protlocx}{protloc}
\edg[ek]{reglipidtr}{lipidtr}\edg{reglipidtr}{reglipidloc}\edg{reglipidtr}{regtrans}
\edg[ek]{regprotloc}{protloc}\edg{regprotloc}{regcellloc}
\edg[en]{poslipidloc}{lipidloc}\edg{poslipidloc}{reglipidloc}
\edg{apop}{pcd}
\edg[ek]{regpcd}{pcd}\edg{regpcd}{regcd}
\edg{endoprol}{epiprol}
\edg[er]{negcd}{celldeath}\edg{negcd}{regcd}
\edg{cytoorg}{orgorg}
\edg[ek]{regepi}{epiprol}\edg{regepi}{regcpp}
\edg[en]{poscpp}{cpp}\edg{poscpp}{regcpp}
\edg[er]{negcpp}{cpp}\edg{negcpp}{regcpp}
\edg[ek]{regepl}{eprotloc}\edg{regepl}{regprotloc}
\edg[en]{posliptr}{lipidtr}\edg{posliptr}{reglipidtr}\edg{posliptr}{postrans}
\edg[er]{negprotloc}{protloc}\edg{negprotloc}{regprotloc}
\edg[en]{posprotloc}{protloc}\edg{posprotloc}{regprotloc}
\edg[ek]{regapop}{apop}\edg{regapop}{regpcd}
\edg[er]{negpcd}{pcd}\edg{negpcd}{regpcd}\edg{negpcd}{negcd}
\edg{vecp}{endoprol}
\edg[ek]{regendo}{endoprol}\edg{regendo}{regepi}
\edg{actcyto}{cytoorg}\edg{actcyto}{afbp}
\edg[en]{posepi}{epiprol}\edg{posepi}{regepi}\edg{posepi}{poscpp}
\edg[er]{negepi}{epiprol}\edg{negepi}{regepi}\edg{negepi}{negcpp}
\edg{supra}{ccorg}
\edg[en]{posepl}{eprotloc}\edg{posepl}{regepl}\edg{posepl}{posprotloc}
\edg{pephorm}{pepsec}\edg{pephorm}{hormsec}
\edg[en]{possbc}{sbc}\edg{possbc}{regsbc}\edg{possbc}{possec}
\edg[er]{negapop}{apop}\edg{negapop}{regapop}\edg{negapop}{negpcd}
\edg[ek]{regvecp}{vecp}\edg{regvecp}{regendo}
\edg[en]{posendo}{endoprol}\edg{posendo}{regendo}\edg{posendo}{posepi}
\edg[er]{negendo}{endoprol}\edg{negendo}{regendo}\edg{negendo}{negepi}
\edg[eb]{actfil}{actcyto}\edg{actfil}{supra}
\edg{inssec}{pephorm}
\edg[ek]{regpephorm}{pephorm}\edg{regpephorm}{reghormsec}
\edg{ghsec}{pephorm}\edg{steroid}{hormsec}
\edg[en]{posvecp}{vecp}\edg{posvecp}{regvecp}\edg{posvecp}{posendo}
\edg{actpoly}{actfil}
\edg[ek]{regins}{inssec}\edg{regins}{regpephorm}
\edg[er]{negpephorm}{pephorm}\edg{negpephorm}{regpephorm}
\edg[en]{pospephorm}{pephorm}\edg{pospephorm}{regpephorm}
\edg[ek]{regghsec}{ghsec}\edg{regghsec}{regpephorm}
\edg{crgs}{crhex}\edg{crgs}{rglu}
\edg{corticosec}{steroid}
\edg[ek]{regsteroid}{steroid}\edg{regsteroid}{reghormsec}
\edg[en]{posins}{inssec}\edg{posins}{regins}\edg{posins}{pospephorm}
\edg[en]{posgh}{ghsec}\edg{posgh}{regghsec}
\edg{glucosec}{corticosec}
\edg[ek]{regcortico}{corticosec}\edg{regcortico}{regsteroid}
\edg[en]{possteroid}{steroid}\edg{possteroid}{regsteroid}
\edg{cortisol}{glucosec}
\edg[ek]{regglucosec}{glucosec}\edg{regglucosec}{regcortico}
\edg[en]{poscortico}{corticosec}\edg{poscortico}{regcortico}\edg{poscortico}{possteroid}
\edg[ek]{regcortisol}{cortisol}\edg{regcortisol}{regglucosec}
\edg[en]{posgluco}{glucosec}\edg{posgluco}{regglucosec}\edg{posgluco}{poscortico}
\edg[en]{poscortisol}{cortisol}\edg{poscortisol}{regcortisol}\edg{poscortisol}{posgluco}
% region 2380-3480
\edg{cp}{bp}\edg{ccob}{cp}\edg{ccorg}{ccob}\edg{ccbio}{ccob}
\edg[ek]{regcp}{cp}\edg{regcp}{regbp}
\edg{cellcomm}{cp}\edg{crs}{cp}\edg{crs}{rs}
\edg{cjorg}{ccorg}\edg[eb]{ccasm}{ccbio}
\edg[ek]{regccorg}{ccorg}\edg{regccorg}{regcp}
\edg[ek]{regccbio}{ccbio}\edg{regccbio}{regcp}
\edg[er]{negcp}{cp}\edg{negcp}{regcp}\edg{negcp}{negbp}
\edg[en]{poscp}{cp}\edg{poscp}{regcp}\edg{poscp}{posbp}
\edg[ek]{regcomm}{cellcomm}\edg{regcomm}{regcp}
\edg[eb]{sigtrans}{cellcomm}\edg[eb]{sigtrans}{crs}\edg{sigtrans}{signaling}
\edg{crcs}{crs}\edg{crcs}{rchem}
\edg{synorg}{cjorg}\edg{cjasm}{cjorg}\edg{cjasm}{ccasm}
\edg{sigrel}{secretion}\edg{hormtr}{transport}
\edg[en]{posccorg}{ccorg}\edg{posccorg}{regccorg}\edg{posccorg}{poscp}
\edg[en]{posccbio}{ccbio}\edg{posccbio}{regccbio}\edg{posccbio}{poscp}
\edg[er]{negcomm}{cellcomm}\edg{negcomm}{regcomm}\edg{negcomm}{negcp}
\edg{gastacid}{acidsec}
\edg[en]{poscomm}{cellcomm}\edg{poscomm}{regcomm}\edg{poscomm}{poscp}
\edg{gpcrsp}{sigtrans}\edg{ist}{sigtrans}
\edg[ek]{regst}{sigtrans}\edg{regst}{regcomm}\edg{regst}{regsig}
\edg[eb]{postsyn}{synorg}
\edg[ek]{regsynorg}{synorg}\edg{regsynorg}{regccorg}
\edg{synasm}{synorg}\edg{synasm}{cjasm}
\edg[ek]{regcja}{cjasm}\edg{regcja}{regccbio}
\edg{hormsec}{sigrel}\edg{hormsec}{hormtr}
\edg{mapk}{ist}
\edg[ek]{regist}{ist}\edg{regist}{regst}
\edg[en]{posst}{sigtrans}\edg{posst}{regst}\edg{posst}{possig}
\edg{cporg}{ccorg}
\edg[ek]{regpostsyn}{postsyn}\edg{regpostsyn}{regsynorg}
\edg[ek]{regsynasm}{synasm}\edg{regsynasm}{regsynorg}\edg{regsynasm}{regcja}
\edg[en]{poscja}{cjasm}\edg{poscja}{regcja}\edg{poscja}{posccbio}
\edg[ek]{reghormsec}{hormsec}\edg{reghormsec}{regsec}
\edg{endohorm}{hormsec}\edg[eb]{endohorm}{endoproc}
\edg[ek]{regmapk}{mapk}\edg{regmapk}{regist}
\edg[en]{posist}{ist}\edg{posist}{regist}\edg{posist}{posst}
\edg{pmbcporg}{cporg}
\edg[er]{neghorm}{hormsec}\edg{neghorm}{reghormsec}
\edg{cortsec}{pephorm}\edg{cortsec}{endohorm}
\edg[en]{possynasm}{synasm}\edg{possynasm}{regsynasm}\edg{possynasm}{poscja}
\edg[en]{poshorm}{hormsec}\edg{poshorm}{reghormsec}
\edg[en]{posmapk}{mapk}\edg{posmapk}{regmapk}\edg{posmapk}{posist}
\edg[ek]{regcort}{cortsec}\edg{regcort}{reghormsec}
\edg[en]{poscort}{cortsec}\edg{poscort}{regcort}\edg{poscort}{poshorm}
% region 3480-4580
\edg{rs}{bp}\edg{rchem}{rs}\edg{rendo}{rs}\edg{rstress}{rs}\edg{rext}{rs}
\edg[ek]{regrs}{rs}\edg{regrs}{regbp}\edg{rabio}{rs}
\edg[en]{posbp}{bp}\edg{posbp}{regbp}\edg{bq}{bioreg}
\edg{roxy}{rchem}\edg{rorg}{rchem}\edg{ccsig}{cellcomm}\edg{defr}{rstress}
\edg[ek]{regrstress}{rstress}\edg{regrstress}{regrs}
\edg{rextra}{rext}
\edg[ek]{regrext}{rext}\edg{regrext}{regrs}
\edg[en]{posrs}{rs}\edg{posrs}{regrs}\edg{posrs}{posbp}
\edg[er]{negrs}{rs}\edg{negrs}{regrs}\edg{negrs}{negbp}
\edg{reghl}{bq}\edg{rrad}{rabio}\edg{regsyn}{regbp}\edg{poscyto}{bq}
\edg{csrsp}{sigtrans}
\edg{crox}{roxy}\edg{crox}{crcs}\edg{cror}{rorg}\edg{cror}{crcs}
\edg{rcarb}{roxy}\edg{rhorm}{rendo}\edg{rhorm}{rorg}
\edg{inflam}{defr}
\edg[ek]{regdef}{defr}\edg{regdef}{regrstress}
\edg{synsig}{ccsig}\edg{rnut}{rextra}
\edg[ek]{regrextra}{rextra}\edg{regrextra}{regrext}
\edg[er]{negrext}{rext}\edg{negrext}{regrext}\edg{negrext}{negrs}
\edg[en]{posrext}{rext}\edg{posrext}{regrext}\edg{posrext}{posrs}
\edg{rlight}{rrad}
\edg{crcarb}{rcarb}\edg{crcarb}{crox}\edg{rmono}{rcarb}
\edg{csrspcc}{csrsp}\edg{csrspcc}{ccsig}\edg{restro}{rhorm}
\edg[ek]{reginflam}{inflam}\edg{reginflam}{regdef}
\edg[er]{negdef}{defr}\edg{negdef}{regdef}
\edg{transsyn}{synsig}\edg{rfood}{rnut}
\edg[ek]{regrnut}{rnut}\edg{regrnut}{regrextra}
\edg[en]{posrextra}{rextra}\edg{posrextra}{regrextra}\edg{posrextra}{posrext}
\edg[eb]{regapp}{rnut}
\edg{crmono}{crcarb}\edg{crmono}{rmono}\edg{rhex}{rmono}
\edg[er]{neginflam}{inflam}\edg{neginflam}{reginflam}\edg{neginflam}{negdef}
\edg[ek]{regtss}{transsyn}\edg{regtss}{regsyn}
\edg{antero}{transsyn}
\edg[ek]{regrfood}{rfood}\edg{regrfood}{regrnut}
\edg[en]{posrnut}{rnut}\edg{posrnut}{regrnut}\edg{posrnut}{posrextra}
\edg{crhex}{crmono}\edg{crhex}{rhex}\edg{rglu}{rhex}
\edg{cst}{antero}
\edg[en]{posrfood}{rfood}\edg{posrfood}{regrfood}\edg{posrfood}{posrnut}
\edg[ek]{modcst}{cst}\edg{modcst}{regtss}
\edg{postmod}{modcst}
\edg{npd}{cporg}
% region 4580-5680
\edg{bioreg}{bp}\edg{metab}{bp}\edg{rhythm}{bp}
\edg{mohom}{homeo}
\edg{regbp}{bioreg}\edg[ek]{regbp}{bp}
\edg{cdp}{dev}\edg{cdp}{cp}\edg{adapt}{mop}
\edg{loco}{bp}\edg{growth}{bp}\edg{osmp}{metab}\edg{circ}{rhythm}
\edg{signaling}{cp}\edg{temphom}{mohom}
\edg[er]{negbp}{bp}\edg{negbp}{regbp}
\edg{celldiff}{cdp}
\edg[ek]{regmetab}{metab}\edg{regmetab}{regbp}
\edg[ek]{regloco}{loco}\edg{regloco}{regbp}
\edg[ek]{reggrowth}{growth}\edg{reggrowth}{regbp}
\edg{macmetab}{osmp}\edg{macmetab}{metab}
\edg[ek]{regmulti}{mop}\edg{regmulti}{regbp}
\edg[ek]{regcirc}{circ}\edg{regcirc}{regmulti}
\edg[ek]{regsig}{signaling}\edg{regsig}{regcp}
\edg{coldthermo}{adapt}
\edg[eb]{celldev}{celldiff}
\edg[en]{posmetab}{metab}\edg{posmetab}{regmetab}\edg{posmetab}{posbp}
\edg[er]{negmetab}{metab}\edg{negmetab}{regmetab}\edg{negmetab}{negbp}
\edg[er]{negloco}{loco}\edg{negloco}{regloco}
\edg[en]{posgrowth}{growth}\edg{posgrowth}{reggrowth}
\edg{reggr}{reggrowth}
\edg[ek]{regmacmetab}{macmetab}\edg{regmacmetab}{regmetab}
\edg{geneexp}{macmetab}
\edg[er]{negmulti}{mop}\edg{negmulti}{regmulti}
\edg[en]{poscirc}{circ}\edg{poscirc}{regcirc}
\edg[en]{possig}{signaling}\edg{possig}{regsig}
\edg{tni}{nsp}
\edg[er]{negsig}{signaling}\edg{negsig}{regsig}
\edg[ek]{regcold}{coldthermo}
\edg[en]{posgr}{reggr}
\edg[er]{negmacmetab}{macmetab}\edg{negmacmetab}{regmacmetab}\edg{negmacmetab}{negmetab}
\edg[ek]{reggene}{geneexp}\edg{reggene}{regmacmetab}
\edg{cytoprod}{geneexp}
\edg[en]{posmulti}{mop}\edg{posmulti}{regmulti}
\edg[ek]{regtni}{tni}\edg{visbeh}{behavior}
\edg[en]{poscold}{coldthermo}\edg{poscold}{regcold}
\edg[er]{neggene}{geneexp}\edg{neggene}{reggene}
\edg{genneur}{neurogen}\edg{tnfsf}{cytoprod}
\edg[ek]{regcyto}{cytoprod}
\edg{il6}{cytoprod}\edg{il1}{cytoprod}\edg{endoproc}{sysproc}
\edg[eb]{neurdiff}{genneur}\edg{neurdiff}{celldiff}
\edg[ek]{regtnfsf}{tnfsf}\edg{regtnfsf}{regcyto}
\edg{tnfprod}{tnfsf}
\edg[er]{negcyto}{cytoprod}\edg{negcyto}{regcyto}
\edg[ek]{regil6}{il6}\edg{regil6}{regcyto}
\edg[ek]{regil1}{il1}\edg{regil1}{regcyto}
\edg{il1b}{il1}
\edg[en]{posmuscon}{muscon}\edg{posmuscon}{regmuscon}
\edg{regmp}{bq}
\edg[eb]{neurdev}{neurdiff}\edg{neurdev}{celldev}
\edg[er]{negtnfsf}{tnfsf}\edg{negtnfsf}{regtnfsf}\edg{negtnfsf}{negcyto}
\edg[ek]{regtnf}{tnfprod}\edg{regtnf}{regtnfsf}
\edg[er]{negil6}{il6}\edg{negil6}{regil6}\edg{negil6}{negcyto}
\edg[er]{negil1}{il1}\edg{negil1}{regil1}\edg{negil1}{negcyto}
\edg[ek]{regil1b}{il1b}\edg{regil1b}{regil1}
\edg[ek]{regendoproc}{endoproc}\edg{regendoproc}{regsys}
\edg[eb]{cstpost}{cst}
\edg{posapp}{regapp}
\edg{regpostmp}{regmp}
\edg{vislearn}{visbeh}
\edg[er]{negtnf}{tnfprod}\edg{negtnf}{regtnf}\edg{negtnf}{negtnfsf}
\edg[er]{negil1b}{il1b}\edg{negil1b}{regil1b}\edg{negil1b}{negil1}
\edg[eb]{epsp}{cstpost}\edg{epsp}{regpostmp}
% region 5680-6780
\edg{mop}{bp}\edg{digestion}{mop}\edg{behavior}{bp}\edg{sleep}{behavior}
\edg{sysproc}{mop}\edg{rhybeh}{behavior}\edg{rhybeh}{rhythm}
\edg[ek]{regdev}{dev}\edg{regdev}{regbp}
\edg[er]{negcirc}{circ}\edg{negcirc}{regcirc}
\edg[ek]{regsys}{sysproc}\edg{regsys}{regmulti}
\edg{msp}{sysproc}\edg{csp}{sysproc}\edg{nsp}{sysproc}\edg{dsp}{sysproc}\edg[eb]{dsp}{digestion}
\edg{circbeh}{rhybeh}
\edg[ek]{regmod}{mod}\edg{regmod}{regdev}
\edg[ek]{regnsp}{nsp}\edg{regnsp}{regsys}
\edg[eb]{neurogen}{nsd}
\edg[ek]{regmsp}{msp}\edg{regmsp}{regsys}
\edg{muscon}{msp}\edg{bloodcirc}{csp}
\edg[ek]{regdsp}{dsp}\edg{regdsp}{regsys}
\edg[en]{posdev}{dev}\edg{posdev}{regdev}
\edg{cognition}{nsp}\edg{intmot}{dsp}
\edg[ek]{regbeh}{behavior}
\edg{gastmot}{dsp}
\edg[ek]{regnsd}{nsd}\edg{regnsd}{regmod}
\edg{cswc}{circbeh}
\edg[ek]{regmuscon}{muscon}\edg{regmuscon}{regmsp}
\edg[ek]{regbc}{bloodcirc}\edg{regbc}{regsys}
\edg{gmbc}{bloodcirc}\edg{smc}{muscon}
\edg[en]{posdsp}{dsp}\edg{posdsp}{regdsp}
\edg[er]{negbeh}{behavior}\edg{negbeh}{regbeh}
\edg[en]{posbeh}{behavior}\edg{posbeh}{regbeh}
\edg[ek]{reggm}{gastmot}\edg{reggm}{regdsp}
\edg[en]{posnsd}{nsd}\edg{posnsd}{regnsd}\edg{posnsd}{posdev}
\edg{sit}{intmot}\edg{lom}{cognition}
\edg[ek]{regcswc}{cswc}\edg{regcswc}{regbeh}
\edg{gastemp}{gastmot}
\edg[eb]{cswcp}{cswc}
\edg[en]{posbc}{bloodcirc}\edg{posbc}{regbc}
\edg[ek]{reggmbc}{gmbc}\edg{reggmbc}{regbc}
\edg[ek]{regsmc}{smc}\edg{regsmc}{regmuscon}
\edg{gissmc}{smc}\edg{phasic}{smc}
\edg[ek]{regsit}{sit}
\edg{learning}{lom}\edg{cswcs}{cswcp}
\edg[en]{posgmbc}{gmbc}\edg{posgmbc}{reggmbc}\edg{posgmbc}{posbc}
\edg[en]{possmc}{smc}\edg{possmc}{regsmc}\edg{possmc}{posmuscon}
\edg[ek]{reggissmc}{gissmc}\edg{reggissmc}{regsmc}
\edg{ismc}{phasic}\edg{ismc}{gissmc}
\edg[en]{possit}{sit}\edg{possit}{regsit}
\edg{assoc}{learning}
\edg[ek]{regcswcs}{cswcs}\edg{regcswcs}{regcswc}
\edg[eb]{nrem}{cswcs}\edg[eb]{rem}{cswcs}
\edg[en]{posgissmc}{gissmc}\edg{posgissmc}{reggissmc}\edg{posgissmc}{possmc}
\edg[eb]{sismc}{ismc}
\edg[en]{poscswcs}{cswcs}\edg{poscswcs}{regcswcs}
\edg[er]{negcswcs}{cswcs}\edg{negcswcs}{regcswcs}
\edg[ek]{regnrem}{nrem}\edg{regnrem}{regcswcs}
\edg[ek]{regrem}{rem}\edg{regrem}{regcswcs}
\edg[ek]{regsismc}{sismc}\edg{regsismc}{reggissmc}
\edg[en]{posnrem}{nrem}\edg{posnrem}{regnrem}\edg{posnrem}{poscswcs}
\edg[er]{negrem}{rem}\edg{negrem}{regrem}\edg{negrem}{negcswcs}
\edg[en]{possismc}{sismc}\edg{possismc}{regsismc}\edg{possismc}{posgissmc}
\edg{dendrite}{npd}
% region 6780-7680
\edg{dev}{bp}\edg{repro}{bp}\edg{asd}{dev}
\edg[eb]{reprop}{repro}\edg{reprop}{bp}
\edg{mod}{dev}\edg{tissue}{asd}\edg{mmop}{mop}
\edg{mor}{repro}\edg{mor}{mop}\edg{morp}{reprop}
\edg{dpir}{reprop}\edg{dpir}{dev}
\edg{adult}{behavior}
\edg[eb]{asm}{asd}
\edg[eb]{sysdev}{mod}\edg{sysdev}{asd}
\edg[eb]{tubedev}{mod}\edg{tubedev}{asd}
\edg{ctd}{tissue}\edg{aod}{asd}\edg{preg}{morp}
\edg[eb]{morepro}{mor}\edg{morepro}{reprop}
\edg[ek]{regasm}{asm}\edg{regasm}{regdev}
\edg[eb]{asfm}{asm}
\edg{ssd}{sysdev}\edg{csd}{sysdev}
\edg[eb]{tubemorph}{tubedev}\edg{tubemorph}{asm}
\edg[eb]{atd}{aod}\edg{atd}{ctd}
\edg{placenta}{aod}
\edg[eb]{mpip}{preg}\edg{mpip}{morepro}
\edg[ek]{regatd}{atd}\edg{regatd}{regmod}
\edg{feed}{behavior}
\edg[eb]{bonedev}{ssd}\edg[eb]{vascdev}{csd}
\edg[eb]{mpd}{placenta}\edg{mpd}{mpip}
\edg[en]{posatd}{atd}\edg{posatd}{regatd}
\edg[ek]{regbone}{bonedev}\edg{regbone}{regmod}
\edg[ek]{regfeed}{feed}\edg{regfeed}{regbeh}
\edg{eat}{feed}\edg{adultfeed}{feed}\edg{adultfeed}{adult}
\edg[ek]{regvasc}{vascdev}\edg{regvasc}{regmod}
\edg[eb]{bvd}{vascdev}
\edg[eb]{decid}{mpd}\edg{decid}{dpir}
\edg[en]{posbone}{bonedev}\edg{posbone}{regbone}
\edg[en]{posvasc}{vascdev}\edg{posvasc}{regvasc}
\edg[en]{posfeed}{feed}\edg{posfeed}{regfeed}
\edg[ek]{regeat}{eat}\edg{regeat}{regfeed}
\edg[eb]{bvm}{bvd}\edg{bvm}{tubemorph}
\edg[en]{poseat}{eat}\edg{poseat}{regeat}\edg{poseat}{posfeed}
\edg[eb]{angio}{bvm}
\edg[ek]{regangio}{angio}\edg{regangio}{regvasc}
\edg{sprout}{angio}
\edg[en]{posangio}{angio}\edg{posangio}{regangio}\edg{posangio}{posvasc}
\edg[ek]{regsprout}{sprout}\edg{regsprout}{regangio}
\edg[en]{possprout}{sprout}\edg{possprout}{regsprout}\edg{possprout}{posangio}
\end{pgfonlayer}
\end{tikzpicture}
\end{document}
